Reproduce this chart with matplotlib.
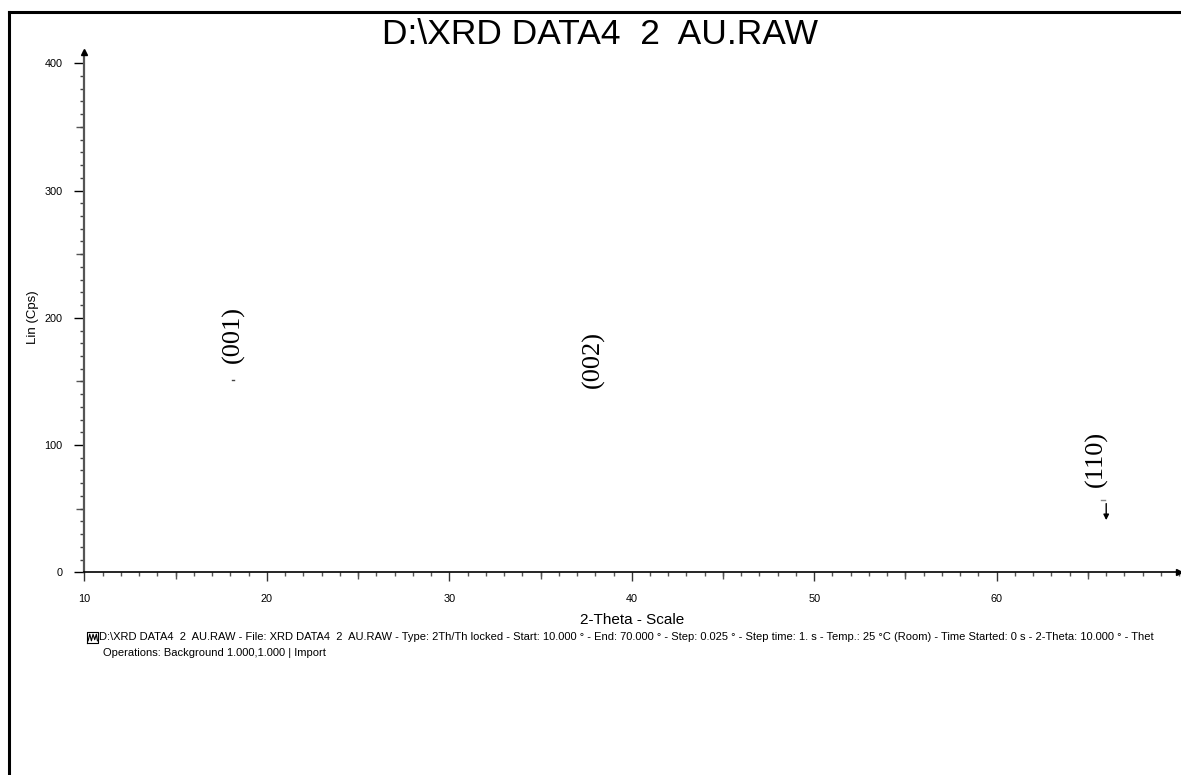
import matplotlib
matplotlib.use("Agg")
import matplotlib.pyplot as plt
from matplotlib.ticker import MultipleLocator, FixedLocator
from matplotlib.lines import Line2D
import numpy as np

plt.rcParams['font.family'] = ['Liberation Sans', 'DejaVu Sans']

# Reflection labels and where they are written (2-theta, Lin counts)
peak_labels = ["(001)", "(002)", "(110)"]
peak_label_theta = [18.15, 37.9, 65.45]
peak_label_cps = [187, 167, 89]

# Small peak markers left on the pattern
dot_theta = [18.1, 18.2]
dot_cps = [151.5, 151.5]
dash_theta = [65.7, 65.95]
dash_cps = [56.5, 56.5]
arrow_theta = 66.0
arrow_cps = [54, 41]

# Axis tick labels
x_tick_values = [10, 20, 30, 40, 50, 60]
y_tick_values = [0, 100, 200, 300, 400]

title_text = "D:\\XRD DATA4  2  AU.RAW"
footer_line1 = ("D:\\XRD DATA4  2  AU.RAW - File: XRD DATA4  2  AU.RAW - Type: 2Th/Th locked - "
                "Start: 10.000 \u00b0 - End: 70.000 \u00b0 - Step: 0.025 \u00b0 - Step time: 1. s - "
                "Temp.: 25 \u00b0C (Room) - Time Started: 0 s - 2-Theta: 10.000 \u00b0 - Thet")
footer_line2 = "Operations: Background 1.000,1.000 | Import"

W, H = 1181, 775
fig = plt.figure(figsize=(W / 100, H / 100), dpi=100)
ax = fig.add_axes([84.3 / W, (H - 572.3) / H, (1179.2 - 84.3) / W, 409 * 1.2725 / H])
ax.set_xlim(10, 70)
ax.set_ylim(0, 409)

for s in ("top", "right"):
    ax.spines[s].set_visible(False)
ax.spines["left"].set_color("#555555")
ax.spines["left"].set_linewidth(1.6)
ax.spines["bottom"].set_color("black")
ax.spines["bottom"].set_linewidth(1.2)

# x ticks: labelled every 10, medium every 5, small every 1
ax.xaxis.set_major_locator(FixedLocator(x_tick_values))
ax.xaxis.set_minor_locator(MultipleLocator(1))
ax.tick_params(axis="x", which="major", length=6.5, width=1.0, color="#333333",
               labelsize=7.8, pad=9)
ax.tick_params(axis="x", which="minor", length=2.7, width=1.0, color="#555555")
sec_x = ax.secondary_xaxis("bottom")
sec_x.set_xticks(np.arange(15, 70, 10))
sec_x.tick_params(axis="x", length=5, width=1.0, color="#555555", labelbottom=False)
sec_x.spines["bottom"].set_visible(False)

# y ticks: labelled every 100, medium every 50, small every 10
ax.yaxis.set_major_locator(FixedLocator(y_tick_values))
ax.yaxis.set_minor_locator(MultipleLocator(10))
ax.tick_params(axis="y", which="major", length=7.5, width=1.0, color="black",
               labelsize=7.8, pad=8)
ax.tick_params(axis="y", which="minor", length=3, width=1.0, color="#444444")
sec_y = ax.secondary_yaxis("left")
sec_y.set_yticks([50, 150, 250, 350])
sec_y.tick_params(axis="y", length=5.5, width=1.0, color="#555555", labelleft=False)
sec_y.spines["left"].set_visible(False)

# axis arrowheads
ax.plot([10], [409], marker="^", color="black", markersize=5, clip_on=False, zorder=5)
ax.plot([70], [0], marker=">", color="black", markersize=5, clip_on=False, zorder=5)

ax.set_xlabel("2-Theta - Scale", fontsize=11)
ax.xaxis.set_label_coords(0.5, -0.0917, transform=ax.transAxes)
ax.xaxis.label.set_va("center")
ax.set_ylabel("Lin (Cps)", fontsize=9.5)
ax.yaxis.set_label_coords(-0.0465, 0.49, transform=ax.transAxes)
ax.yaxis.label.set_va("center")

# reflection labels
for lab, t, c in zip(peak_labels, peak_label_theta, peak_label_cps):
    ax.text(t, c, lab, rotation=90, ha="center", va="center", fontsize=19,
            family="Liberation Serif")

ax.plot(dot_theta, dot_cps, color="#444444", lw=1.0)
ax.plot(dash_theta, dash_cps, color="#888888", lw=1.0)
ax.annotate("", xy=(arrow_theta, arrow_cps[1]), xytext=(arrow_theta, arrow_cps[0]),
            arrowprops=dict(arrowstyle="-|>", color="black", lw=1.0,
                            mutation_scale=8, shrinkA=0, shrinkB=0))

# title
fig.text(600 / W, 1 - 34 / H, title_text, ha="center", va="center", fontsize=25.5)

# footer with the scan icon
ix0, iy0 = 87 / W, 1 - 643 / H
iw, ih = 11 / W, 11 / H
fig.add_artist(Line2D([ix0, ix0 + iw, ix0 + iw, ix0, ix0],
                      [iy0, iy0, iy0 + ih, iy0 + ih, iy0], color="black", lw=0.8))
wave_x = ix0 + iw * np.array([0.1, 0.25, 0.4, 0.55, 0.7, 0.85, 0.95])
wave_y = iy0 + ih * np.array([0.2, 0.8, 0.2, 0.8, 0.3, 0.8, 0.2])
fig.add_artist(Line2D(wave_x, wave_y, color="black", lw=0.8))
fig.text(99 / W, 1 - 637 / H, footer_line1, ha="left", va="center", fontsize=8.0)
fig.text(103 / W, 1 - 653 / H, footer_line2, ha="left", va="center", fontsize=8.0)

# page frame (top and left edges)
fig.add_artist(Line2D([9.5 / W, 1.0], [1 - 12 / H, 1 - 12 / H], color="black", lw=2.2))
fig.add_artist(Line2D([9.5 / W, 9.5 / W], [0, 1 - 12 / H], color="black", lw=2.2))

fig.savefig("out.png", dpi=100)
